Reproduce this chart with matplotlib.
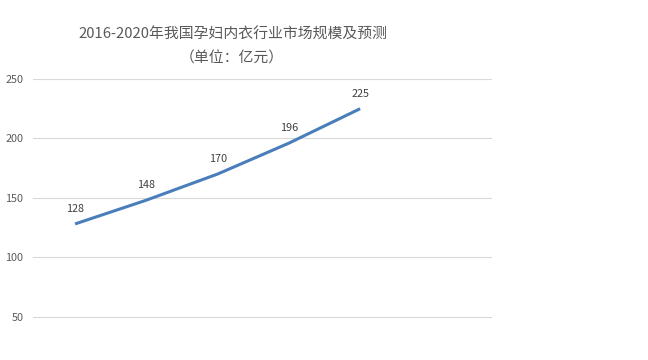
import matplotlib.pyplot as plt

plt.rcParams['font.family'] = ['Noto Sans CJK SC', 'DejaVu Sans']

years = ['2016', '2017', '2018', '2019', '2020']
values = [128, 148, 170, 196, 225]
yticks = [50, 100, 150, 200, 250]

fig = plt.figure(figsize=(6.48, 3.6), dpi=100)
ax = fig.add_axes([33 / 648, -16 / 360, 459 / 648, 297 / 360])

x = list(range(len(years)))
ax.plot(x, values, color='#4A7EBB', linewidth=2.2, solid_capstyle='butt')
for xi, v in zip(x, values):
    ax.annotate(str(v), (xi, v), xytext=(0, 7), textcoords='offset points',
                ha='center', va='bottom', fontsize=7.8, color='#404040')

ax.set_xlim(-0.59, 5.85)
ax.set_ylim(0, 250)
ax.set_yticks(yticks)
ax.set_xticks([])
ax.grid(axis='y', color='#D9D9D9', linewidth=0.8)
ax.tick_params(axis='y', length=0, pad=7, labelsize=7.8, labelcolor='#595959')
for s in ax.spines.values():
    s.set_visible(False)

fig.text(233 / 648, 1 - 35 / 360, '2016-2020年我国孕妇内衣行业市场规模及预测',
         ha='center', va='center', fontsize=10.7, color='#595959')
fig.text(232 / 648, 1 - 58 / 360, '（单位：亿元）',
         ha='center', va='center', fontsize=10.7, color='#595959')

fig.savefig('out.png', dpi=100)
